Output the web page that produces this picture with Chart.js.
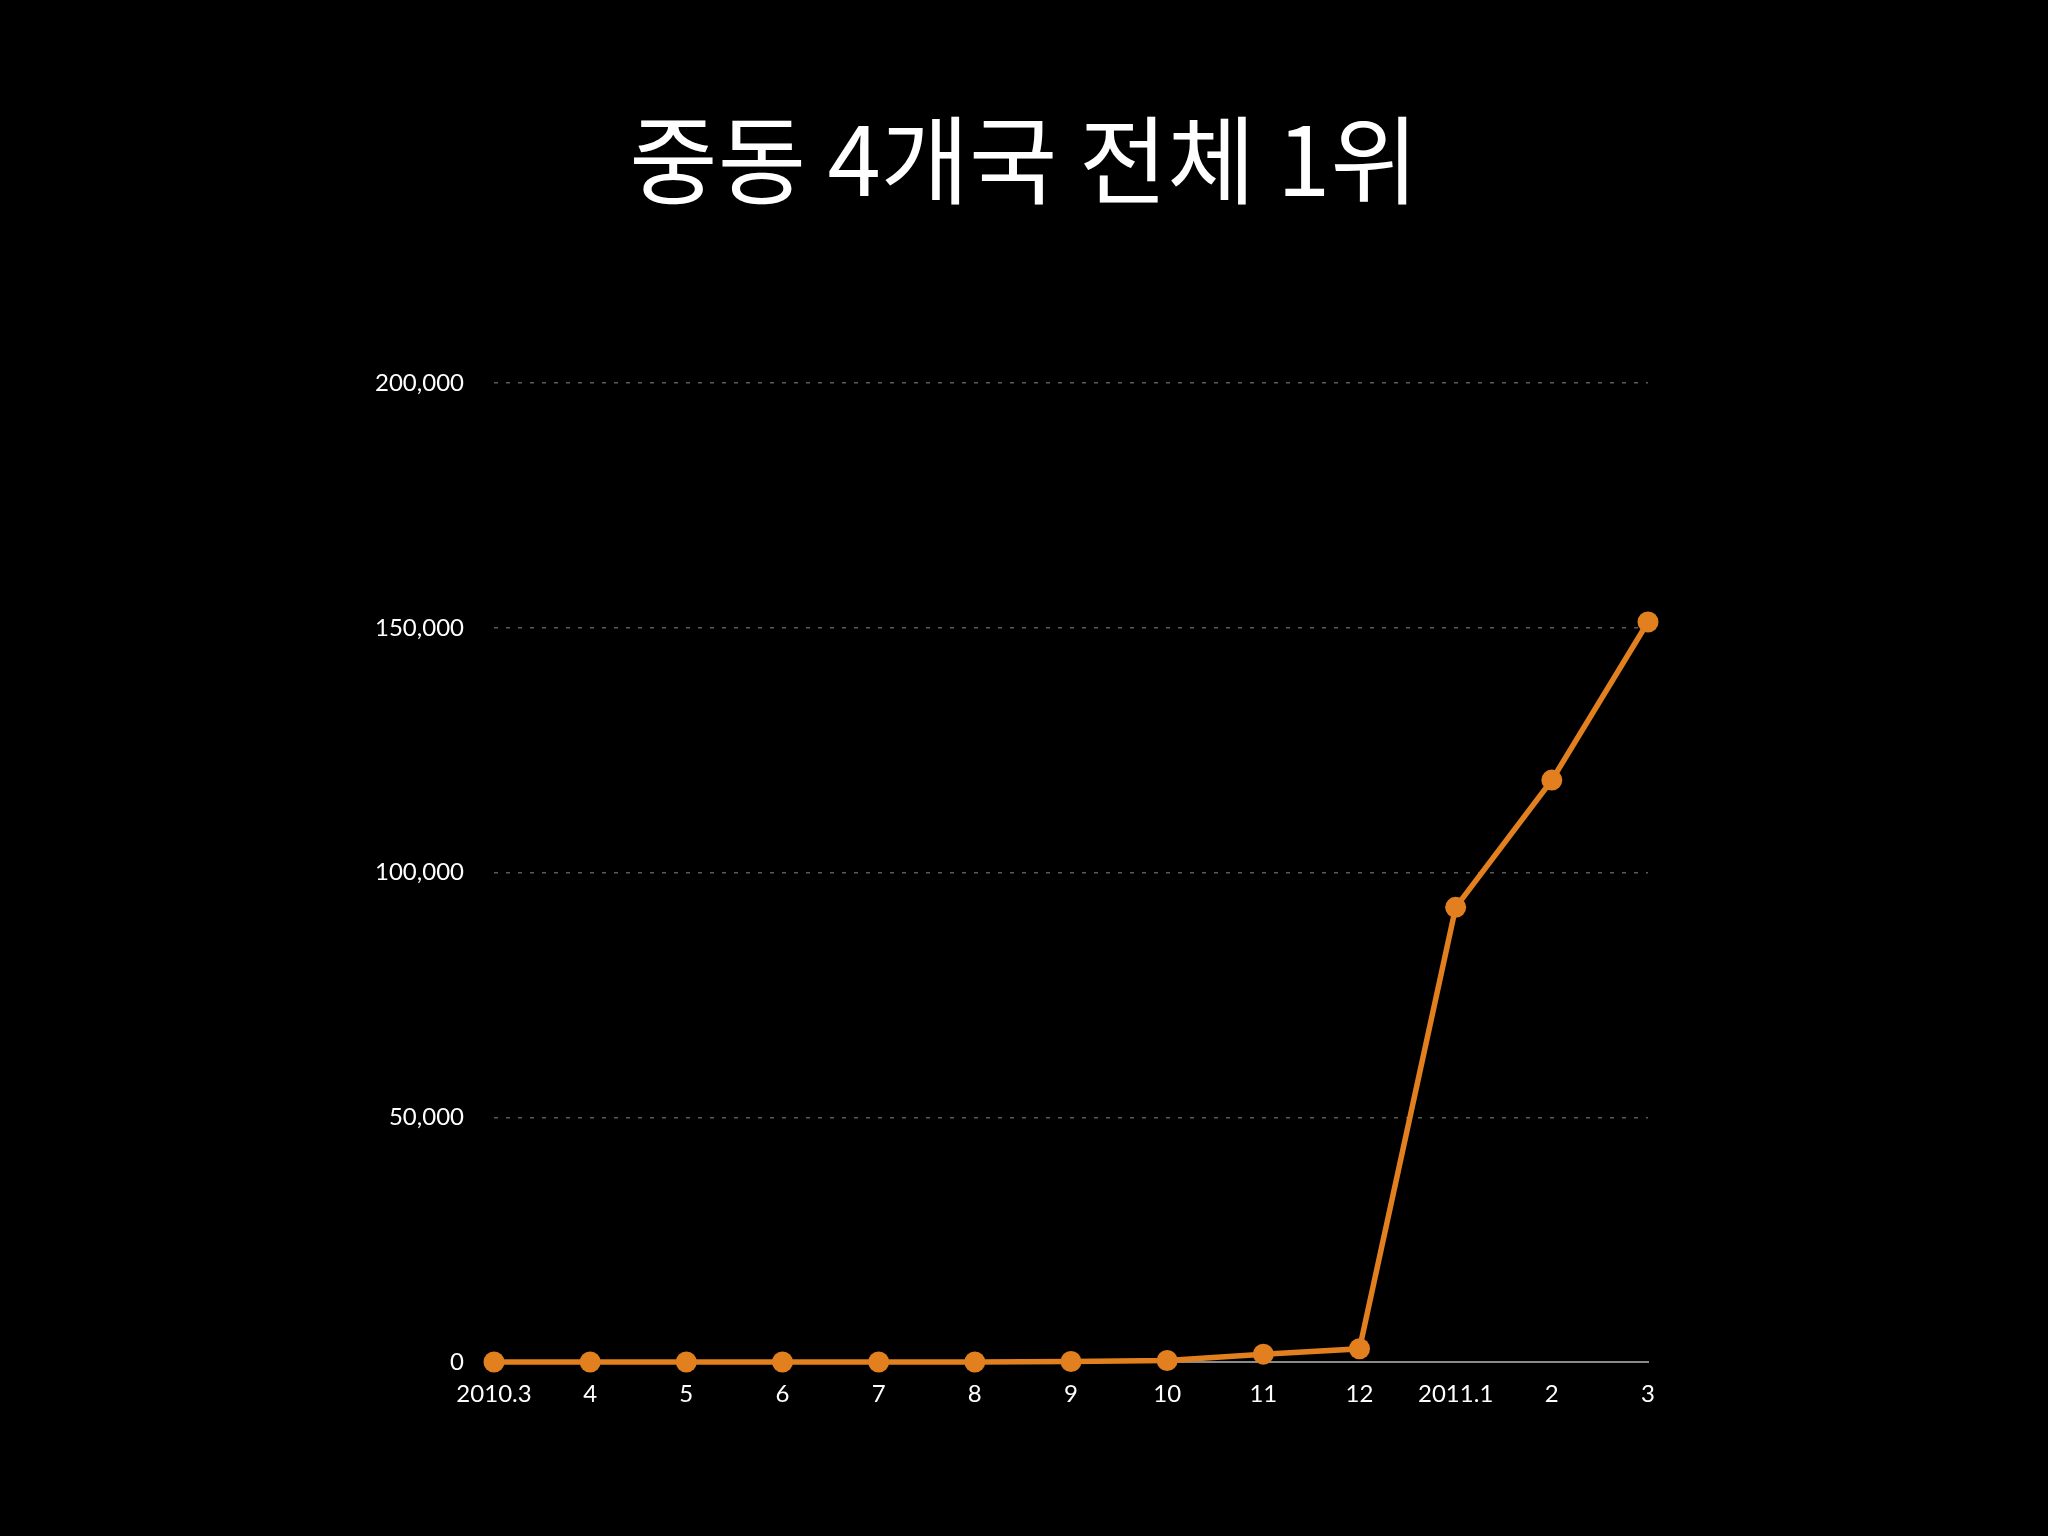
<!DOCTYPE html>
<html>
<head>
<meta charset="utf-8">
<script src="https://cdn.jsdelivr.net/npm/chart.js@4/dist/chart.umd.min.js"></script>
<style>
  html, body { margin: 0; padding: 0; background: #000; }
  #wrap { width: 2048px; height: 1536px; position: relative; }
</style>
</head>
<body>
<div id="wrap"><canvas id="c" width="2048" height="1536"></canvas></div>
<script>
const titleText = '중동 4개국 전체 1위';
const categories = ['2010.3', '4', '5', '6', '7', '8', '9', '10', '11', '12', '2011.1', '2', '3'];
const values = [0, 0, 0, 0, 0, 0, 100, 300, 1600, 2700, 92900, 118900, 151200];
const yTicks = [0, 50000, 100000, 150000, 200000];

const orange = 'rgb(226,127,30)';
const labelFont = { family: 'Lato, "Open Sans", sans-serif', size: 24 };

new Chart(document.getElementById('c'), {
  type: 'line',
  data: {
    labels: categories,
    datasets: [{
      data: values,
      borderColor: orange,
      backgroundColor: orange,
      borderWidth: 5.5,
      pointRadius: 10.5,
      pointBorderWidth: 0,
      pointBackgroundColor: orange,
      tension: 0,
      fill: false,
      clip: false
    }]
  },
  options: {
    responsive: false,
    animation: false,
    layout: { padding: 0 },
    plugins: {
      legend: { display: false },
      tooltip: { enabled: false },
      title: {
        display: true,
        text: titleText,
        color: '#ffffff',
        font: { family: '"Noto Sans CJK KR", sans-serif', size: 96, weight: '400', lineHeight: 1.2 },
        padding: { top: 102, bottom: 166 }
      }
    },
    scales: {
      x: {
        offset: false,
        grid: { display: false, drawTicks: false },
        border: { display: true, color: '#8a8a8a', width: 2 },
        ticks: { color: '#ffffff', font: labelFont, padding: 18, maxRotation: 0, autoSkip: false },
        afterFit: (s) => { s.height = 174; }
      },
      y: {
        min: 0,
        max: 200000,
        afterBuildTicks: (s) => { s.ticks = yTicks.map(v => ({ value: v })); },
        grid: {
          drawTicks: false,
          color: (ctx) => (ctx.tick && ctx.tick.value === 0) ? 'rgba(0,0,0,0)' : '#5a5a5a',
          lineWidth: 1.5
        },
        border: { display: false, dash: [4, 8] },
        ticks: {
          color: '#ffffff',
          font: labelFont,
          padding: 30,
          callback: (v) => Number(v).toLocaleString('en-US')
        },
        afterFit: (s) => { s.width = 494; }
      },
      yRight: {
        position: 'right',
        display: true,
        min: 0,
        max: 200000,
        grid: { display: false, drawTicks: false },
        border: { display: false },
        ticks: { display: false },
        afterFit: (s) => { s.width = 400; }
      }
    }
  }
});
</script>
</body>
</html>
